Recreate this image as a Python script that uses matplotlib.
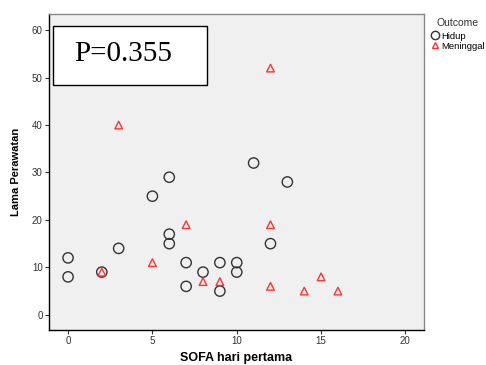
import matplotlib
matplotlib.use("Agg")
import matplotlib.pyplot as plt
from matplotlib.lines import Line2D
from matplotlib.patches import Rectangle

hidup_x = [0, 0, 2, 3, 5, 6, 6, 6, 7, 7, 8, 9, 9, 10, 10, 11, 12, 13]
hidup_y = [12, 8, 9, 14, 25, 29, 17, 15, 11, 6, 9, 11, 5, 11, 9, 32, 15, 28]
men_x = [2, 3, 5, 7, 8, 9, 12, 12, 12, 14, 15, 16]
men_y = [9, 40, 11, 19, 7, 7, 52, 19, 6, 5, 8, 5]
xticks = [0, 5, 10, 15, 20]
yticks = [0, 10, 20, 30, 40, 50, 60]

plt.rcParams['font.family'] = ['Liberation Sans', 'DejaVu Sans']

fig = plt.figure(figsize=(4.86, 3.65), dpi=100)
ax = fig.add_axes([0.1008, 0.0959, 0.7716, 0.8657])
ax.set_facecolor('#f0f0f0')

ax.scatter(hidup_x, hidup_y, s=55, marker='o', facecolors='none',
           edgecolors='#333333', linewidths=1.0, zorder=3)
ax.scatter(men_x, men_y, s=30, marker='^', facecolors='none',
           edgecolors='#ff3333', linewidths=1.0, zorder=4)

ax.set_xlim(-1.13, 21.1)
ax.set_ylim(-3.2, 63.4)
ax.set_xticks(xticks)
ax.set_yticks(yticks)
ax.tick_params(direction='out', length=3, width=0.8, labelsize=7, pad=1.5,
               colors='#333333', labelcolor='#333333')
for sp in ['left', 'bottom']:
    ax.spines[sp].set_color('black')
    ax.spines[sp].set_linewidth(1.0)
for sp in ['top', 'right']:
    ax.spines[sp].set_color('#888888')
    ax.spines[sp].set_linewidth(1.0)

ax.set_xlabel('SOFA hari pertama', fontsize=9, fontweight='bold', labelpad=4)
ax.set_ylabel('Lama Perawatan', fontsize=8, fontweight='bold', labelpad=8)

ax.add_patch(Rectangle((0.0107, 0.775), 0.41, 0.187, transform=ax.transAxes,
                       facecolor='white', edgecolor='black', linewidth=1.0,
                       zorder=5))
ax.text(0.197, 0.872, 'P=0.355', transform=ax.transAxes, ha='center',
        va='center', fontsize=21, family='Liberation Serif', color='black',
        zorder=6)

handles = [Line2D([], [], marker='o', linestyle='none', markerfacecolor='none',
                  markeredgecolor='#333333', markersize=6, label='Hidup'),
           Line2D([], [], marker='^', linestyle='none', markerfacecolor='none',
                  markeredgecolor='#ff3333', markersize=5, label='Meninggal')]
leg = fig.legend(handles=handles, title='Outcome', loc='upper left',
                 bbox_to_anchor=(0.874, 0.97), frameon=False, fontsize=6.8,
                 title_fontsize=7.5, handlelength=0.7, handletextpad=0.3,
                 labelspacing=0.1, borderpad=0.2)
leg.get_title().set_color('#333333')
leg._legend_box.sep = 3

fig.savefig('out.png', dpi=100)
